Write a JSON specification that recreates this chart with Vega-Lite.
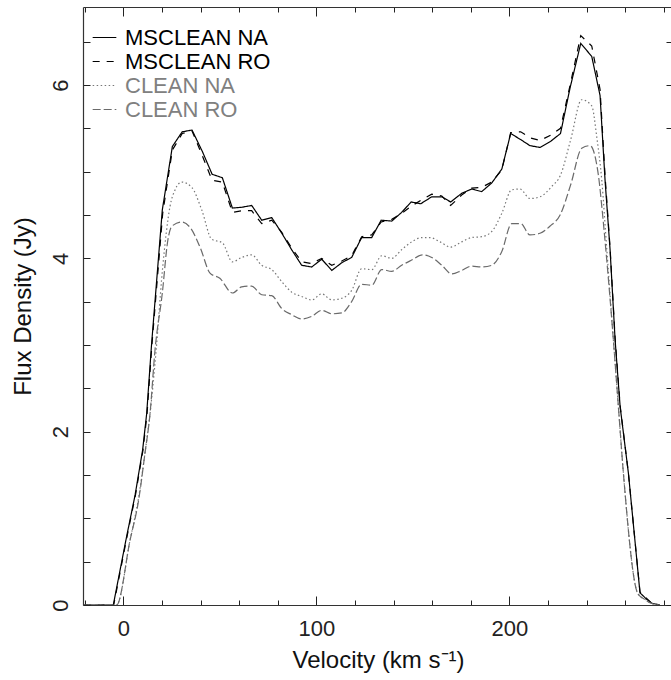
{
"$schema": "https://vega.github.io/schema/vega-lite/v6.json",
"width": 590, "height": 598,
"autosize": "none",
"padding": {"left": 83, "top": 7, "right": 0, "bottom": 75},
"background": "white",
"config": {
  "font": "Liberation Sans",
  "view": {"stroke": null},
  "axis": {"domainColor": "#333", "domainWidth": 1.2, "tickColor": "#222", "tickWidth": 1, "labelColor": "#222", "titleColor": "#111", "labelFontSize": 22, "titleFontSize": 24, "titleFontWeight": "normal", "grid": false, "labelOverlap": false, "labelFlush": false, "labelFont": "Liberation Sans", "titleFont": "Liberation Sans"}
},
"datasets": {
"spec": [
{"s":"MSCLEAN NA","v":-20.5,"f":0},{"s":"MSCLEAN NA","v":-5.2,"f":0},{"s":"MSCLEAN NA","v":1.7,"f":0.79},{"s":"MSCLEAN NA","v":6.1,"f":1.27},{"s":"MSCLEAN NA","v":10.0,"f":1.79},{"s":"MSCLEAN NA","v":12.1,"f":2.21},{"s":"MSCLEAN NA","v":14.6,"f":3.0},{"s":"MSCLEAN NA","v":20.2,"f":4.56},{"s":"MSCLEAN NA","v":25.4,"f":5.29},{"s":"MSCLEAN NA","v":30.5,"f":5.46},{"s":"MSCLEAN NA","v":35.6,"f":5.48},{"s":"MSCLEAN NA","v":41.0,"f":5.23},{"s":"MSCLEAN NA","v":46.0,"f":4.97},{"s":"MSCLEAN NA","v":51.3,"f":4.93},{"s":"MSCLEAN NA","v":56.5,"f":4.58},{"s":"MSCLEAN NA","v":61.6,"f":4.59},{"s":"MSCLEAN NA","v":66.5,"f":4.61},{"s":"MSCLEAN NA","v":71.7,"f":4.44},{"s":"MSCLEAN NA","v":76.9,"f":4.47},{"s":"MSCLEAN NA","v":82.1,"f":4.29},{"s":"MSCLEAN NA","v":87.2,"f":4.1},{"s":"MSCLEAN NA","v":92.4,"f":3.92},{"s":"MSCLEAN NA","v":97.6,"f":3.9},{"s":"MSCLEAN NA","v":102.8,"f":3.99},{"s":"MSCLEAN NA","v":108.0,"f":3.86},{"s":"MSCLEAN NA","v":113.2,"f":3.95},{"s":"MSCLEAN NA","v":118.3,"f":4.01},{"s":"MSCLEAN NA","v":123.5,"f":4.24},{"s":"MSCLEAN NA","v":128.7,"f":4.24},{"s":"MSCLEAN NA","v":133.6,"f":4.44},{"s":"MSCLEAN NA","v":139.1,"f":4.43},{"s":"MSCLEAN NA","v":144.2,"f":4.53},{"s":"MSCLEAN NA","v":149.1,"f":4.65},{"s":"MSCLEAN NA","v":154.1,"f":4.63},{"s":"MSCLEAN NA","v":159.8,"f":4.71},{"s":"MSCLEAN NA","v":165.0,"f":4.71},{"s":"MSCLEAN NA","v":169.6,"f":4.65},{"s":"MSCLEAN NA","v":175.3,"f":4.75},{"s":"MSCLEAN NA","v":180.5,"f":4.8},{"s":"MSCLEAN NA","v":185.7,"f":4.77},{"s":"MSCLEAN NA","v":190.9,"f":4.87},{"s":"MSCLEAN NA","v":196.1,"f":5.03},{"s":"MSCLEAN NA","v":200.7,"f":5.44},{"s":"MSCLEAN NA","v":205.9,"f":5.37},{"s":"MSCLEAN NA","v":210.7,"f":5.3},{"s":"MSCLEAN NA","v":215.9,"f":5.28},{"s":"MSCLEAN NA","v":221.4,"f":5.35},{"s":"MSCLEAN NA","v":226.5,"f":5.44},{"s":"MSCLEAN NA","v":231.5,"f":5.97},{"s":"MSCLEAN NA","v":237.0,"f":6.48},{"s":"MSCLEAN NA","v":242.7,"f":6.33},{"s":"MSCLEAN NA","v":247.0,"f":5.88},{"s":"MSCLEAN NA","v":249.6,"f":4.9},{"s":"MSCLEAN NA","v":252.2,"f":4.1},{"s":"MSCLEAN NA","v":254.8,"f":3.06},{"s":"MSCLEAN NA","v":257.4,"f":2.29},{"s":"MSCLEAN NA","v":261.7,"f":1.52},{"s":"MSCLEAN NA","v":267.7,"f":0.14},{"s":"MSCLEAN NA","v":271.0,"f":0.07},{"s":"MSCLEAN NA","v":273.8,"f":0.02},{"s":"MSCLEAN NA","v":278.0,"f":0},
{"s":"MSCLEAN RO","v":-20.5,"f":0},{"s":"MSCLEAN RO","v":-5.0,"f":0},{"s":"MSCLEAN RO","v":1.9,"f":0.79},{"s":"MSCLEAN RO","v":6.3,"f":1.27},{"s":"MSCLEAN RO","v":10.2,"f":1.79},{"s":"MSCLEAN RO","v":12.3,"f":2.21},{"s":"MSCLEAN RO","v":14.8,"f":3.0},{"s":"MSCLEAN RO","v":20.4,"f":4.52},{"s":"MSCLEAN RO","v":25.4,"f":5.25},{"s":"MSCLEAN RO","v":30.5,"f":5.44},{"s":"MSCLEAN RO","v":35.6,"f":5.47},{"s":"MSCLEAN RO","v":41.0,"f":5.18},{"s":"MSCLEAN RO","v":46.0,"f":4.9},{"s":"MSCLEAN RO","v":51.3,"f":4.88},{"s":"MSCLEAN RO","v":56.5,"f":4.53},{"s":"MSCLEAN RO","v":61.6,"f":4.55},{"s":"MSCLEAN RO","v":66.5,"f":4.55},{"s":"MSCLEAN RO","v":71.7,"f":4.4},{"s":"MSCLEAN RO","v":76.9,"f":4.44},{"s":"MSCLEAN RO","v":82.1,"f":4.3},{"s":"MSCLEAN RO","v":87.2,"f":4.12},{"s":"MSCLEAN RO","v":92.4,"f":3.96},{"s":"MSCLEAN RO","v":97.6,"f":3.94},{"s":"MSCLEAN RO","v":102.8,"f":4.0},{"s":"MSCLEAN RO","v":108.0,"f":3.92},{"s":"MSCLEAN RO","v":113.2,"f":3.97},{"s":"MSCLEAN RO","v":118.3,"f":4.03},{"s":"MSCLEAN RO","v":123.5,"f":4.25},{"s":"MSCLEAN RO","v":128.7,"f":4.27},{"s":"MSCLEAN RO","v":133.6,"f":4.42},{"s":"MSCLEAN RO","v":139.1,"f":4.45},{"s":"MSCLEAN RO","v":144.2,"f":4.52},{"s":"MSCLEAN RO","v":149.1,"f":4.6},{"s":"MSCLEAN RO","v":154.1,"f":4.67},{"s":"MSCLEAN RO","v":159.8,"f":4.74},{"s":"MSCLEAN RO","v":165.0,"f":4.72},{"s":"MSCLEAN RO","v":169.6,"f":4.61},{"s":"MSCLEAN RO","v":175.3,"f":4.73},{"s":"MSCLEAN RO","v":180.5,"f":4.81},{"s":"MSCLEAN RO","v":185.7,"f":4.82},{"s":"MSCLEAN RO","v":190.9,"f":4.88},{"s":"MSCLEAN RO","v":196.1,"f":5.02},{"s":"MSCLEAN RO","v":200.7,"f":5.45},{"s":"MSCLEAN RO","v":205.9,"f":5.46},{"s":"MSCLEAN RO","v":210.7,"f":5.39},{"s":"MSCLEAN RO","v":215.9,"f":5.36},{"s":"MSCLEAN RO","v":221.4,"f":5.42},{"s":"MSCLEAN RO","v":226.5,"f":5.5},{"s":"MSCLEAN RO","v":231.5,"f":6.0},{"s":"MSCLEAN RO","v":237.0,"f":6.57},{"s":"MSCLEAN RO","v":242.7,"f":6.45},{"s":"MSCLEAN RO","v":247.0,"f":5.95},{"s":"MSCLEAN RO","v":249.6,"f":4.95},{"s":"MSCLEAN RO","v":252.2,"f":4.12},{"s":"MSCLEAN RO","v":254.8,"f":3.08},{"s":"MSCLEAN RO","v":257.4,"f":2.3},{"s":"MSCLEAN RO","v":261.7,"f":1.52},{"s":"MSCLEAN RO","v":267.7,"f":0.15},{"s":"MSCLEAN RO","v":271.0,"f":0.08},{"s":"MSCLEAN RO","v":273.8,"f":0.02},{"s":"MSCLEAN RO","v":278.0,"f":0},
{"s":"CLEAN NA","v":-20.5,"f":0},{"s":"CLEAN NA","v":-3.5,"f":0},{"s":"CLEAN NA","v":3.5,"f":0.75},{"s":"CLEAN NA","v":8.0,"f":1.25},{"s":"CLEAN NA","v":11.2,"f":1.75},{"s":"CLEAN NA","v":13.8,"f":2.2},{"s":"CLEAN NA","v":17.0,"f":2.94},{"s":"CLEAN NA","v":20.2,"f":3.85},{"s":"CLEAN NA","v":24.2,"f":4.6},{"s":"CLEAN NA","v":27.0,"f":4.8},{"s":"CLEAN NA","v":30.2,"f":4.88},{"s":"CLEAN NA","v":35.4,"f":4.82},{"s":"CLEAN NA","v":40.6,"f":4.56},{"s":"CLEAN NA","v":45.8,"f":4.22},{"s":"CLEAN NA","v":51.3,"f":4.18},{"s":"CLEAN NA","v":56.5,"f":3.96},{"s":"CLEAN NA","v":61.3,"f":4.01},{"s":"CLEAN NA","v":66.5,"f":4.04},{"s":"CLEAN NA","v":71.7,"f":3.92},{"s":"CLEAN NA","v":76.9,"f":3.87},{"s":"CLEAN NA","v":82.1,"f":3.73},{"s":"CLEAN NA","v":87.2,"f":3.61},{"s":"CLEAN NA","v":92.4,"f":3.56},{"s":"CLEAN NA","v":97.6,"f":3.52},{"s":"CLEAN NA","v":102.8,"f":3.59},{"s":"CLEAN NA","v":108.0,"f":3.52},{"s":"CLEAN NA","v":113.2,"f":3.54},{"s":"CLEAN NA","v":118.3,"f":3.63},{"s":"CLEAN NA","v":123.5,"f":3.88},{"s":"CLEAN NA","v":128.7,"f":3.87},{"s":"CLEAN NA","v":133.9,"f":4.03},{"s":"CLEAN NA","v":139.1,"f":4.0},{"s":"CLEAN NA","v":144.2,"f":4.1},{"s":"CLEAN NA","v":149.4,"f":4.19},{"s":"CLEAN NA","v":154.6,"f":4.24},{"s":"CLEAN NA","v":158.9,"f":4.24},{"s":"CLEAN NA","v":164.1,"f":4.19},{"s":"CLEAN NA","v":169.6,"f":4.13},{"s":"CLEAN NA","v":175.3,"f":4.19},{"s":"CLEAN NA","v":180.5,"f":4.24},{"s":"CLEAN NA","v":185.7,"f":4.25},{"s":"CLEAN NA","v":190.9,"f":4.31},{"s":"CLEAN NA","v":196.1,"f":4.52},{"s":"CLEAN NA","v":201.2,"f":4.79},{"s":"CLEAN NA","v":205.5,"f":4.8},{"s":"CLEAN NA","v":210.7,"f":4.69},{"s":"CLEAN NA","v":215.9,"f":4.71},{"s":"CLEAN NA","v":222.0,"f":4.83},{"s":"CLEAN NA","v":226.5,"f":4.96},{"s":"CLEAN NA","v":231.8,"f":5.37},{"s":"CLEAN NA","v":237.5,"f":5.83},{"s":"CLEAN NA","v":242.7,"f":5.76},{"s":"CLEAN NA","v":245.3,"f":5.4},{"s":"CLEAN NA","v":247.9,"f":4.9},{"s":"CLEAN NA","v":250.5,"f":4.1},{"s":"CLEAN NA","v":253.9,"f":3.06},{"s":"CLEAN NA","v":256.5,"f":2.29},{"s":"CLEAN NA","v":259.1,"f":1.52},{"s":"CLEAN NA","v":266.6,"f":0.13},{"s":"CLEAN NA","v":270.5,"f":0.06},{"s":"CLEAN NA","v":273.5,"f":0.02},{"s":"CLEAN NA","v":278.0,"f":0},
{"s":"CLEAN RO","v":-20.5,"f":0},{"s":"CLEAN RO","v":-3.5,"f":0},{"s":"CLEAN RO","v":3.5,"f":0.75},{"s":"CLEAN RO","v":8.0,"f":1.22},{"s":"CLEAN RO","v":11.2,"f":1.75},{"s":"CLEAN RO","v":13.8,"f":2.2},{"s":"CLEAN RO","v":16.4,"f":2.94},{"s":"CLEAN RO","v":20.2,"f":3.6},{"s":"CLEAN RO","v":23.0,"f":4.2},{"s":"CLEAN RO","v":25.1,"f":4.37},{"s":"CLEAN RO","v":30.3,"f":4.42},{"s":"CLEAN RO","v":34.8,"f":4.35},{"s":"CLEAN RO","v":39.9,"f":4.12},{"s":"CLEAN RO","v":44.9,"f":3.83},{"s":"CLEAN RO","v":50.0,"f":3.77},{"s":"CLEAN RO","v":56.5,"f":3.6},{"s":"CLEAN RO","v":61.3,"f":3.67},{"s":"CLEAN RO","v":66.5,"f":3.68},{"s":"CLEAN RO","v":71.7,"f":3.58},{"s":"CLEAN RO","v":76.9,"f":3.57},{"s":"CLEAN RO","v":82.1,"f":3.42},{"s":"CLEAN RO","v":87.2,"f":3.35},{"s":"CLEAN RO","v":92.4,"f":3.3},{"s":"CLEAN RO","v":97.6,"f":3.33},{"s":"CLEAN RO","v":102.8,"f":3.4},{"s":"CLEAN RO","v":108.0,"f":3.36},{"s":"CLEAN RO","v":113.2,"f":3.37},{"s":"CLEAN RO","v":118.3,"f":3.5},{"s":"CLEAN RO","v":123.5,"f":3.7},{"s":"CLEAN RO","v":128.7,"f":3.69},{"s":"CLEAN RO","v":133.9,"f":3.87},{"s":"CLEAN RO","v":139.1,"f":3.85},{"s":"CLEAN RO","v":144.2,"f":3.92},{"s":"CLEAN RO","v":149.4,"f":3.98},{"s":"CLEAN RO","v":154.9,"f":4.04},{"s":"CLEAN RO","v":159.8,"f":4.01},{"s":"CLEAN RO","v":165.0,"f":3.92},{"s":"CLEAN RO","v":170.2,"f":3.82},{"s":"CLEAN RO","v":175.3,"f":3.86},{"s":"CLEAN RO","v":180.5,"f":3.91},{"s":"CLEAN RO","v":185.7,"f":3.9},{"s":"CLEAN RO","v":190.9,"f":3.92},{"s":"CLEAN RO","v":196.1,"f":4.08},{"s":"CLEAN RO","v":201.2,"f":4.4},{"s":"CLEAN RO","v":205.9,"f":4.4},{"s":"CLEAN RO","v":210.7,"f":4.27},{"s":"CLEAN RO","v":215.9,"f":4.29},{"s":"CLEAN RO","v":221.0,"f":4.37},{"s":"CLEAN RO","v":226.3,"f":4.5},{"s":"CLEAN RO","v":231.8,"f":4.85},{"s":"CLEAN RO","v":237.5,"f":5.27},{"s":"CLEAN RO","v":241.8,"f":5.3},{"s":"CLEAN RO","v":246.2,"f":4.95},{"s":"CLEAN RO","v":247.9,"f":4.6},{"s":"CLEAN RO","v":250.0,"f":4.1},{"s":"CLEAN RO","v":253.9,"f":3.06},{"s":"CLEAN RO","v":256.5,"f":2.29},{"s":"CLEAN RO","v":259.1,"f":1.52},{"s":"CLEAN RO","v":266.6,"f":0.13},{"s":"CLEAN RO","v":270.5,"f":0.06},{"s":"CLEAN RO","v":273.5,"f":0.02},{"s":"CLEAN RO","v":278.0,"f":0}
]
},
"data": {"name": "spec"},
"layer": [
{
  "transform": [{"filter": "indexof(datum.s, 'MSCLEAN') === 0"}],
  "mark": {"type": "line", "strokeWidth": 1.2, "clip": true},
  "encoding": {
    "x": {"field": "v", "type": "quantitative", "scale": {"domain": [-20.9, 284.8], "nice": false, "zero": false},
      "axis": {"orient": "bottom", "values": [-20,0,20,40,60,80,100,120,140,160,180,200,220,240,260,280], "labelExpr": "datum.value % 100 === 0 ? format(datum.value, 'd') : ''", "tickSize": {"condition": {"test": "datum.value % 100 === 0", "value": -9}, "value": -5}, "labelPadding": 22, "title": "Velocity (km s⁻¹)", "titlePadding": 5}},
    "y": {"field": "f", "type": "quantitative", "scale": {"domain": [0, 6.9], "nice": false, "zero": false},
      "axis": {"orient": "left", "values": [0,0.5,1,1.5,2,2.5,3,3.5,4,4.5,5,5.5,6,6.5], "labelExpr": "datum.value % 2 === 0 ? format(datum.value, 'd') : ''", "tickSize": -7, "labelAngle": -90, "labelPadding": 18, "title": "Flux Density (Jy)", "titlePadding": 14}},
    "color": {"field": "s", "type": "nominal", "scale": {"domain": ["MSCLEAN NA", "MSCLEAN RO", "CLEAN NA", "CLEAN RO"], "range": ["#000000", "#000000", "#777777", "#6a6a6a"]},
      "legend": {"title": null, "orient": "none", "legendX": 9, "legendY": 18, "symbolType": "stroke", "symbolSize": 560, "symbolStrokeWidth": 1.2, "labelFontSize": 22, "labelFont": "Liberation Sans", "labelOffset": 8, "rowPadding": 0, "padding": 0,
        "encode": {"labels": {"update": {"fill": {"signal": "indexof(datum.label, 'MSCLEAN') === 0 ? '#000000' : '#808080'"}}}}}},
    "strokeDash": {"field": "s", "type": "nominal", "scale": {"domain": ["MSCLEAN NA", "MSCLEAN RO", "CLEAN NA", "CLEAN RO"], "range": [[1, 0], [7, 7], [1.5, 2.5], [8, 3]]},
      "legend": {"title": null, "orient": "none", "legendX": 9, "legendY": 18, "symbolType": "stroke", "symbolSize": 560, "symbolStrokeWidth": 1.2, "labelFontSize": 22, "labelFont": "Liberation Sans", "labelOffset": 8, "rowPadding": 0, "padding": 0,
        "encode": {"labels": {"update": {"fill": {"signal": "indexof(datum.label, 'MSCLEAN') === 0 ? '#000000' : '#808080'"}}}}}}
  }
},
{
  "transform": [{"filter": "indexof(datum.s, 'MSCLEAN') !== 0"}],
  "mark": {"type": "line", "strokeWidth": 1.2, "interpolate": "monotone", "clip": true},
  "encoding": {
    "x": {"field": "v", "type": "quantitative",
      "axis": {"orient": "top", "values": [-20,0,20,40,60,80,100,120,140,160,180,200,220,240,260,280], "labels": false, "tickSize": {"condition": {"test": "datum.value % 100 === 0", "value": -9}, "value": -5}, "title": null}},
    "y": {"field": "f", "type": "quantitative",
      "axis": {"orient": "right", "values": [0,0.5,1,1.5,2,2.5,3,3.5,4,4.5,5,5.5,6,6.5], "labels": false, "tickSize": -7, "title": null}},
    "color": {"field": "s", "type": "nominal"},
    "strokeDash": {"field": "s", "type": "nominal"}
  }
}
],
"resolve": {"axis": {"x": "independent", "y": "independent"}}
}
